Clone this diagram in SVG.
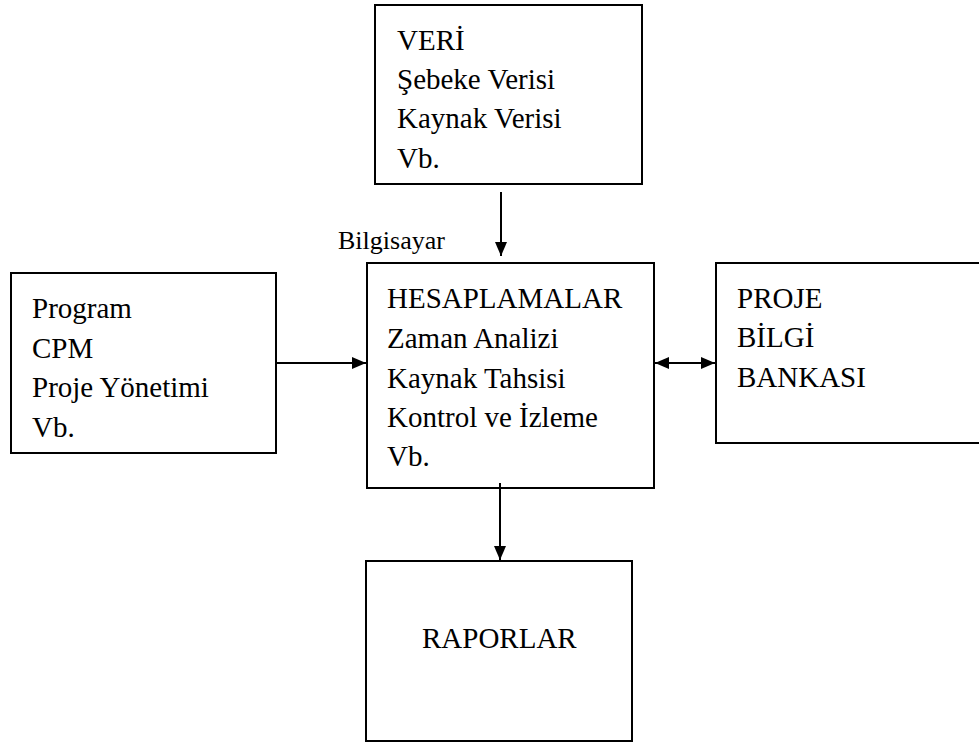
<svg xmlns="http://www.w3.org/2000/svg" width="979" height="742" viewBox="0 0 979 742">
<style>
.box{fill:#fff;stroke:#000;stroke-width:2}
.t{font-family:"Liberation Serif","Times New Roman",serif;font-size:29px;fill:#000}
.s{font-family:"Liberation Serif","Times New Roman",serif;font-size:26px;fill:#000}
.c{stroke:#000;stroke-width:2;fill:none}
</style>
<defs>
<marker id="ah" viewBox="0 0 14 12" refX="14" refY="6" markerWidth="14" markerHeight="12" markerUnits="userSpaceOnUse" orient="auto-start-reverse">
<path d="M0,0 L14,6 L0,12 Z" fill="#000"/>
</marker>
</defs>
<rect width="979" height="742" fill="#fff"/>
<g id="veri">
<rect class="box" x="375" y="5" width="267" height="179"/>
<text class="t" x="397" y="50">VERİ</text>
<text class="t" x="397" y="89">Şebeke Verisi</text>
<text class="t" x="397" y="128">Kaynak Verisi</text>
<text class="t" x="397" y="168">Vb.</text>
</g>
<g id="program">
<rect class="box" x="11" y="273" width="265" height="180"/>
<text class="t" x="32" y="318">Program</text>
<text class="t" x="32" y="358">CPM</text>
<text class="t" x="32" y="397">Proje Yönetimi</text>
<text class="t" x="32" y="437">Vb.</text>
</g>
<g id="hesaplamalar">
<rect class="box" x="367" y="263" width="287" height="225"/>
<text class="t" x="387" y="308">HESAPLAMALAR</text>
<text class="t" x="387" y="348">Zaman Analizi</text>
<text class="t" x="387" y="388">Kaynak Tahsisi</text>
<text class="t" x="387" y="427">Kontrol ve İzleme</text>
<text class="t" x="387" y="466">Vb.</text>
</g>
<g id="bilgisayar">
<text class="s" x="338" y="249">Bilgisayar</text>
</g>
<g id="banka">
<rect class="box" x="716" y="263" width="275" height="180"/>
<text class="t" x="737" y="308">PROJE</text>
<text class="t" x="737" y="347">BİLGİ</text>
<text class="t" x="737" y="387">BANKASI</text>
</g>
<g id="raporlar">
<rect class="box" x="366" y="561" width="266" height="180"/>
<text class="t" x="422" y="648">RAPORLAR</text>
</g>
<g id="connectors">
<line class="c" x1="501" y1="192" x2="501" y2="256" marker-end="url(#ah)"/>
<line class="c" x1="277" y1="363" x2="366" y2="363" marker-end="url(#ah)"/>
<line class="c" x1="655" y1="363" x2="715" y2="363" marker-start="url(#ah)" marker-end="url(#ah)"/>
<line class="c" x1="500" y1="483" x2="500" y2="560" marker-end="url(#ah)"/>
</g>
</svg>
